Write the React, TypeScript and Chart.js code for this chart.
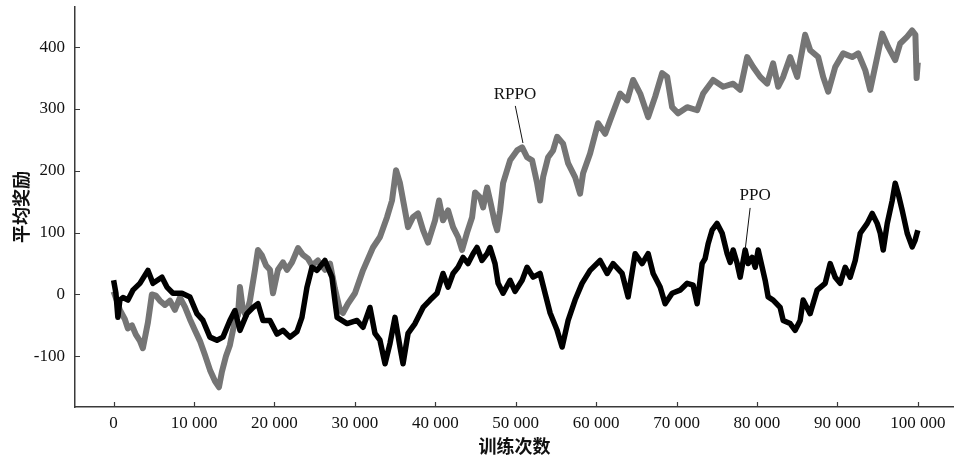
import { useEffect, useRef } from 'react';
import { Chart, registerables } from 'chart.js';

Chart.register(...registerables);

const rppoX = [0, 410, 780, 1400, 1780, 2280, 2770, 3270, 3640, 4270, 4760, 5260, 5760, 6380, 7000, 7620, 8250, 8870, 9490, 10110, 10730, 11360, 11980, 12600, 13100, 13470, 13970, 14460, 15090, 15460, 15710, 16080, 16460, 16950, 17580, 17950, 18450, 18950, 19440, 19820, 20440, 21060, 21560, 22180, 22930, 23550, 24170, 24670, 25400, 26280, 26910, 27510, 28140, 28510, 29130, 30010, 31010, 32250, 33120, 34000, 34620, 35120, 35610, 36230, 36610, 37230, 37850, 38480, 39100, 39970, 40470, 40960, 41590, 42210, 42830, 43330, 43950, 44580, 44950, 45570, 45950, 46440, 46810, 47430, 47690, 48060, 48430, 49300, 50170, 50800, 51410, 52040, 52660, 53030, 53410, 54030, 54650, 55150, 55890, 56520, 57380, 58000, 58380, 59250, 60240, 61130, 61750, 62990, 63860, 64600, 65480, 66470, 67340, 68210, 68830, 69450, 70200, 71320, 72560, 73310, 74550, 75800, 77040, 77910, 78780, 79530, 80400, 81270, 82010, 82640, 83260, 84130, 85000, 85990, 86620, 87610, 88230, 88860, 89730, 90720, 91840, 92590, 93460, 94080, 94950, 95570, 96320, 97190, 97810, 98680, 99300, 99700, 99850, 100000];
const rppoY = [5, -10, -25, -40, -55, -50, -65, -75, -87, -45, 0, -2, -10, -17, -10, -25, -5, -20, -40, -58, -75, -98, -122, -140, -150, -125, -100, -82, -42, -34, 12, -25, -34, -10, 40, 72, 63, 47, 40, 2, 40, 52, 40, 52, 75, 64, 58, 47, 55, 40, 50, 10, -25, -30, -15, 2, 39, 76, 93, 125, 152, 201, 180, 136, 109, 125, 131, 104, 84, 120, 152, 120, 136, 109, 93, 72, 100, 125, 165, 157, 141, 173, 152, 115, 104, 136, 180, 217, 233, 238, 222, 217, 180, 152, 190, 222, 233, 255, 244, 212, 190, 163, 196, 228, 277, 260, 282, 325, 314, 347, 325, 287, 320, 358, 352, 303, 293, 303, 298, 325, 347, 336, 341, 331, 384, 368, 352, 341, 374, 336, 352, 384, 352, 420, 395, 384, 352, 328, 368, 390, 384, 390, 363, 331, 384, 422, 400, 379, 406, 417, 427, 420, 350, 375];

const ppoX = [0, 290, 530, 780, 1160, 1780, 2400, 3270, 4270, 4890, 6010, 6630, 7380, 8500, 9490, 10360, 11110, 11980, 12850, 13600, 14460, 15090, 15710, 16580, 17330, 17950, 18570, 19440, 20310, 21060, 21930, 22800, 23420, 24050, 24670, 25290, 26280, 27150, 27510, 27790, 29030, 30270, 31010, 31880, 32500, 33120, 33750, 34370, 34990, 35610, 35990, 36610, 37480, 38480, 39350, 40220, 40960, 41590, 42210, 42830, 43450, 44070, 44700, 45190, 45810, 46440, 46810, 47430, 47810, 48430, 49300, 49920, 50800, 51410, 52160, 53030, 53650, 54280, 55150, 55770, 56520, 57380, 58250, 59250, 60490, 61370, 62110, 63230, 63980, 64850, 65720, 66470, 67090, 67960, 68580, 69450, 70440, 71320, 72060, 72560, 73180, 73550, 73930, 74420, 75040, 75670, 76290, 76670, 77040, 77540, 77910, 78530, 78910, 79400, 79780, 80150, 80650, 81020, 81390, 82010, 82880, 83260, 84130, 84750, 85370, 85740, 86610, 87480, 88480, 89100, 89730, 90350, 90970, 91590, 92220, 92840, 93710, 94330, 94950, 95330, 95700, 96200, 96820, 97190, 97560, 98060, 98680, 99300, 99670, 100000];
const ppoY = [23, 2, -37, -9, -5, -9, 7, 18, 39, 18, 28, 12, 2, 2, -4, -31, -42, -69, -74, -69, -42, -26, -58, -31, -21, -15, -42, -42, -64, -58, -69, -60, -37, 12, 44, 39, 55, 28, -9, -37, -47, -42, -53, -21, -63, -74, -112, -79, -37, -85, -112, -63, -47, -21, -9, 2, 34, 12, 34, 44, 60, 50, 66, 76, 55, 66, 76, 50, 18, 2, 23, 5, 23, 44, 28, 34, 2, -30, -58, -85, -42, -9, 18, 39, 55, 34, 50, 34, -4, 66, 50, 66, 34, 12, -15, 2, 7, 18, 15, -15, 50, 58, 82, 104, 115, 99, 66, 52, 72, 50, 28, 72, 50, 60, 44, 72, 44, 23, -4, -9, -21, -42, -47, -58, -42, -9, -31, 7, 18, 50, 28, 18, 44, 28, 55, 99, 115, 131, 115, 99, 72, 115, 152, 180, 163, 136, 99, 77, 88, 104];

const xTicks = [0, 10000, 20000, 30000, 40000, 50000, 60000, 70000, 80000, 90000, 100000];
const yTicks = [-100, 0, 100, 200, 300, 400];

const seriesNames = ['RPPO', 'PPO'];
const xTitle = '训练次数';
const yTitle = '平均奖励';

const fmtX = (v: number) => String(v).replace(/\B(?=(\d{3})+(?!\d))/g, ' ');

const decor = {
  id: 'decor',
  afterDatasetsDraw(chart: any) {
    const { ctx, scales, chartArea } = chart;
    const x = scales.x;
    const y = scales.y;
    ctx.save();
    ctx.strokeStyle = '#3a3a3a';
    ctx.lineWidth = 1.2;
    ctx.beginPath();
    xTicks.forEach((v) => {
      const px = Math.round(x.getPixelForValue(v)) + 0.5;
      ctx.moveTo(px, chartArea.bottom);
      ctx.lineTo(px, chartArea.bottom - 5);
    });
    yTicks.forEach((v) => {
      const py = Math.round(y.getPixelForValue(v)) + 0.5;
      ctx.moveTo(chartArea.left, py);
      ctx.lineTo(chartArea.left + 5, py);
    });
    ctx.stroke();

    // annotations
    ctx.fillStyle = '#111';
    ctx.font = '17px "Liberation Serif"';
    ctx.textAlign = 'center';
    ctx.textBaseline = 'middle';
    ctx.fillText(seriesNames[0], x.getPixelForValue(49900), y.getPixelForValue(324));
    ctx.fillText(seriesNames[1], x.getPixelForValue(79780), y.getPixelForValue(160));
    ctx.strokeStyle = '#111';
    ctx.lineWidth = 1;
    ctx.beginPath();
    ctx.moveTo(x.getPixelForValue(49950), y.getPixelForValue(305));
    ctx.lineTo(x.getPixelForValue(50900), y.getPixelForValue(245));
    ctx.moveTo(x.getPixelForValue(79150), y.getPixelForValue(140));
    ctx.lineTo(x.getPixelForValue(78530), y.getPixelForValue(72));
    ctx.stroke();
    ctx.restore();
  },
};

export default function App() {
  const ref = useRef<HTMLCanvasElement | null>(null);
  useEffect(() => {
    if (!ref.current) return;
    const chart = new Chart(ref.current, {
      type: 'line',
      data: {
        datasets: [
          {
            label: seriesNames[0],
            data: rppoX.map((v, i) => ({ x: v, y: rppoY[i] })),
            borderColor: '#757575',
            borderWidth: 6,
            borderJoinStyle: 'round',
            pointRadius: 0,
            tension: 0,
            order: 2,
          },
          {
            label: seriesNames[1],
            data: ppoX.map((v, i) => ({ x: v, y: ppoY[i] })),
            borderColor: '#000000',
            borderWidth: 5.5,
            borderJoinStyle: 'round',
            pointRadius: 0,
            tension: 0,
            order: 1,
          },
        ],
      },
      options: {
        animation: false,
        responsive: true,
        maintainAspectRatio: false,
        layout: { padding: { top: 7, right: 0, left: 0, bottom: 0 } },
        plugins: {
          legend: { display: false },
          tooltip: { enabled: false },
        },
        scales: {
          x: {
            type: 'linear',
            min: -4800,
            max: 104500,
            afterFit: (s: any) => {
              s.height = 50;
              s.paddingLeft = 0;
              s.paddingRight = 0;
            },
            afterBuildTicks: (s: any) => {
              s.ticks = xTicks.map((v) => ({ value: v }));
            },
            grid: { display: false, drawTicks: false },
            border: { display: true, color: '#3a3a3a', width: 1.5 },
            ticks: {
              autoSkip: false,
              maxRotation: 0,
              padding: 6,
              color: '#111',
              font: { family: '"Liberation Serif"', size: 17 },
              callback: (v: any) => fmtX(Number(v)),
            },
            title: {
              display: true,
              text: xTitle,
              color: '#111',
              font: { family: '"Noto Sans CJK SC"', size: 18, weight: 'bold' },
              padding: { top: 0, bottom: 0 },
            },
          },
          y: {
            type: 'linear',
            min: -182,
            max: 465,
            afterFit: (s: any) => {
              s.width = 75;
              s.paddingTop = 0;
              s.paddingBottom = 0;
            },
            afterBuildTicks: (s: any) => {
              s.ticks = yTicks.map((v) => ({ value: v }));
            },
            grid: { display: false, drawTicks: false },
            border: { display: true, color: '#3a3a3a', width: 1.5 },
            ticks: {
              padding: 10,
              color: '#111',
              font: { family: '"Liberation Serif"', size: 17 },
              callback: (v: any) => String(v),
            },
            title: {
              display: true,
              text: yTitle,
              color: '#111',
              font: { family: '"Noto Sans CJK SC"', size: 18, weight: 'bold' },
              padding: { top: 10, bottom: 0 },
            },
          },
        },
      },
      plugins: [decor],
    });
    return () => chart.destroy();
  }, []);
  return (
    <div style={{ position: 'fixed', left: 0, top: 0, width: 954, height: 457, background: '#fff' }}>
      <canvas ref={ref} />
    </div>
  );
}
